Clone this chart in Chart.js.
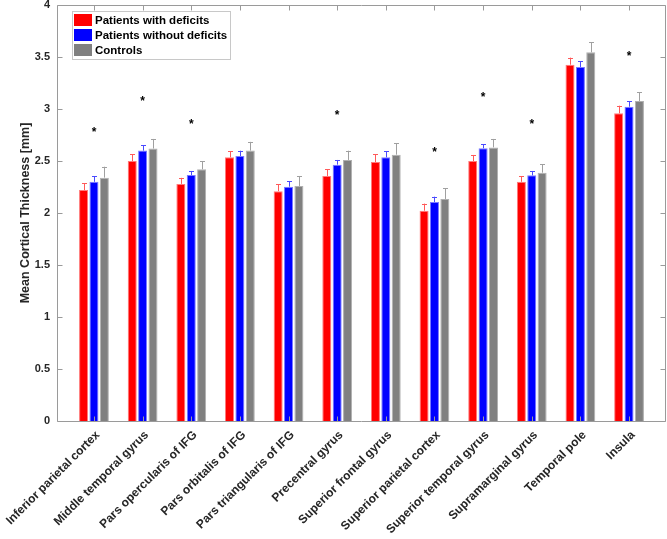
<!DOCTYPE html>
<html>
<head>
<meta charset="utf-8">
<script src="https://cdn.jsdelivr.net/npm/chart.js@4.4.1/dist/chart.umd.min.js"></script>
<style>
  html, body { margin: 0; padding: 0; background: #ffffff; }
  #wrap { width: 667px; height: 539px; }
</style>
</head>
<body>
<div id="wrap"><canvas id="c" width="667" height="539"></canvas></div>
<script>
const categories = [
  "Inferior parietal cortex", "Middle temporal gyrus", "Pars opercularis of IFG",
  "Pars orbitalis of IFG", "Pars triangularis of IFG", "Precentral gyrus",
  "Superior frontal gyrus", "Superior parietal cortex", "Superior temporal gyrus",
  "Supramarginal gyrus", "Temporal pole", "Insula"
];
const seriesNames = ["Patients with deficits", "Patients without deficits", "Controls"];
const withDeficits    = [2.22, 2.50, 2.28, 2.535, 2.21, 2.356, 2.49, 2.022, 2.50, 2.30, 3.426, 2.958];
const withoutDeficits = [2.30, 2.60, 2.365, 2.548, 2.253, 2.465, 2.535, 2.106, 2.622, 2.362, 3.404, 3.022];
const controls        = [2.34, 2.62, 2.42, 2.60, 2.26, 2.51, 2.561, 2.135, 2.631, 2.388, 3.545, 3.077];
const errWithDeficits    = [0.065, 0.067, 0.058, 0.058, 0.068, 0.067, 0.074, 0.068, 0.058, 0.052, 0.068, 0.074];
const errWithoutDeficits = [0.055, 0.051, 0.039, 0.051, 0.051, 0.045, 0.058, 0.051, 0.041, 0.042, 0.054, 0.051];
const errControls        = [0.105, 0.092, 0.077, 0.084, 0.096, 0.089, 0.112, 0.102, 0.081, 0.083, 0.095, 0.086];
const significanceStars  = [2.81, 3.11, 2.88, null, null, 2.97, null, 2.62, 3.14, 2.88, null, 3.535];
const yTickValues = [0, 0.5, 1, 1.5, 2, 2.5, 3, 3.5, 4];

const FONT = "'Liberation Sans', Arial, Helvetica, sans-serif";
const AXIS_COLOR = "#9a9a9a";
const TEXT_COLOR = "#262626";

const seriesValues = [withDeficits, withoutDeficits, controls];
const seriesErrors = [errWithDeficits, errWithoutDeficits, errControls];
const seriesColors = ["#ff0000", "#0000ff", "#808080"];
const seriesBorders = ["#ff7a7a", "#7a7aff", "#b0b0b0"];
const errColors = ["#ff5a5a", "#4a4aff", "#a0a0a0"];

const datasets = seriesValues.map((vals, s) => ({
  label: seriesNames[s],
  data: vals.map((v, i) => ({ x: i + 1, y: v })),
  backgroundColor: seriesColors[s],
  borderColor: seriesBorders[s],
  borderWidth: 1,
  errors: seriesErrors[s],
  errColor: errColors[s],
  categoryPercentage: 0.64,
  barPercentage: 0.87
}));

const errorBarPlugin = {
  id: "errorBars",
  afterDatasetsDraw(chart) {
    const ctx = chart.ctx;
    const ys = chart.scales.y;
    chart.data.datasets.forEach((ds, di) => {
      const meta = chart.getDatasetMeta(di);
      ctx.save();
      ctx.strokeStyle = ds.errColor;
      ctx.lineWidth = 1;
      meta.data.forEach((el, j) => {
        const v = ds.data[j].y, e = ds.errors[j];
        const x = Math.round(el.x) + 0.5;
        const yTop = ys.getPixelForValue(v + e);
        const yBase = ys.getPixelForValue(v);
        ctx.beginPath();
        ctx.moveTo(x, yBase);
        ctx.lineTo(x, yTop);
        ctx.moveTo(x - 2.5, Math.round(yTop) + 0.5);
        ctx.lineTo(x + 2.5, Math.round(yTop) + 0.5);
        ctx.stroke();
      });
      ctx.restore();
    });
  }
};

const starsPlugin = {
  id: "stars",
  afterDatasetsDraw(chart) {
    const ctx = chart.ctx;
    const xs = chart.scales.x, ys = chart.scales.y;
    ctx.save();
    ctx.fillStyle = "#000000";
    ctx.font = "bold 12px " + FONT;
    ctx.textAlign = "center";
    ctx.textBaseline = "alphabetic";
    significanceStars.forEach((s, i) => {
      if (s === null) return;
      const x = xs.getPixelForValue(i + 1);
      const y = ys.getPixelForValue(s);
      ctx.fillText("*", x, y + 7);
    });
    ctx.restore();
  }
};

const boxPlugin = {
  id: "axisBox",
  afterDatasetsDraw(chart) {
    const ctx = chart.ctx;
    const a = chart.chartArea;
    const xs = chart.scales.x, ys = chart.scales.y;
    ctx.save();
    ctx.strokeStyle = AXIS_COLOR;
    ctx.lineWidth = 1;
    const L = Math.round(a.left) + 0.5, R = Math.round(a.right) - 0.5;
    const T = Math.round(a.top) + 0.5, B = Math.round(a.bottom) + 0.5;
    ctx.beginPath();
    ctx.rect(L, T, R - L, B - T);
    ctx.stroke();
    ctx.beginPath();
    yTickValues.forEach(v => {
      const y = Math.round(ys.getPixelForValue(v)) + 0.5;
      ctx.moveTo(L, y); ctx.lineTo(L + 5, y);
      ctx.moveTo(R, y); ctx.lineTo(R - 5, y);
    });
    categories.forEach((c, i) => {
      const x = Math.round(xs.getPixelForValue(i + 1)) + 0.5;
      ctx.moveTo(x, T); ctx.lineTo(x, T + 5);
      ctx.moveTo(x, B); ctx.lineTo(x, B - 5);
    });
    ctx.stroke();
    ctx.restore();
  }
};

const legendPlugin = {
  id: "boxedLegend",
  afterDraw(chart) {
    const ctx = chart.ctx;
    const bx = 72.5, by = 11.5, bw = 158, bh = 48;
    ctx.save();
    ctx.fillStyle = "#ffffff";
    ctx.fillRect(bx, by, bw, bh);
    ctx.strokeStyle = "#c8c8c8";
    ctx.lineWidth = 1;
    ctx.strokeRect(bx, by, bw, bh);
    ctx.font = "bold 11.5px " + FONT;
    ctx.textBaseline = "middle";
    ctx.textAlign = "left";
    chart.data.datasets.forEach((ds, i) => {
      const rowY = 14 + i * 15;
      ctx.fillStyle = ds.backgroundColor;
      ctx.fillRect(74, rowY, 18, 12);
      ctx.fillStyle = "#000000";
      ctx.fillText(ds.label, 95, rowY + 6.5);
    });
    ctx.restore();
  }
};

new Chart(document.getElementById("c"), {
  type: "bar",
  data: { datasets },
  plugins: [errorBarPlugin, starsPlugin, boxPlugin, legendPlugin],
  options: {
    responsive: false,
    animation: false,
    events: [],
    layout: { padding: { top: 5, right: 1, left: 0, bottom: 0 } },
    plugins: { legend: { display: false }, tooltip: { enabled: false } },
    scales: {
      x: {
        type: "linear",
        offset: false,
        min: 0.24,
        max: 12.76,
        grid: { display: false, drawTicks: false, offset: false },
        border: { display: false },
        afterBuildTicks: (s) => { s.ticks = categories.map((c, i) => ({ value: i + 1 })); },
        afterFit: (s) => { s.height = 118; s.paddingLeft = 0; s.paddingRight = 0; },
        ticks: {
          autoSkip: false,
          minRotation: 45,
          maxRotation: 45,
          padding: 7,
          labelOffset: 4,
          color: TEXT_COLOR,
          font: { family: FONT, size: 12, weight: "bold" },
          callback: (v) => categories[Math.round(v) - 1] || ""
        }
      },
      y: {
        min: 0,
        max: 4,
        grid: { display: false, drawTicks: false },
        border: { display: false },
        afterBuildTicks: (s) => { s.ticks = yTickValues.map(v => ({ value: v })); },
        afterFit: (s) => { s.width = 57; s.paddingTop = 0; s.paddingBottom = 0; },
        ticks: {
          padding: 7,
          color: TEXT_COLOR,
          font: { family: FONT, size: 11, weight: "bold" },
          callback: (v) => String(v)
        },
        title: {
          display: true,
          text: "Mean Cortical Thickness [mm]",
          color: TEXT_COLOR,
          font: { family: FONT, size: 12.5, weight: "bold" },
          padding: { top: 18, bottom: 0 }
        }
      }
    }
  }
});
</script>
</body>
</html>
